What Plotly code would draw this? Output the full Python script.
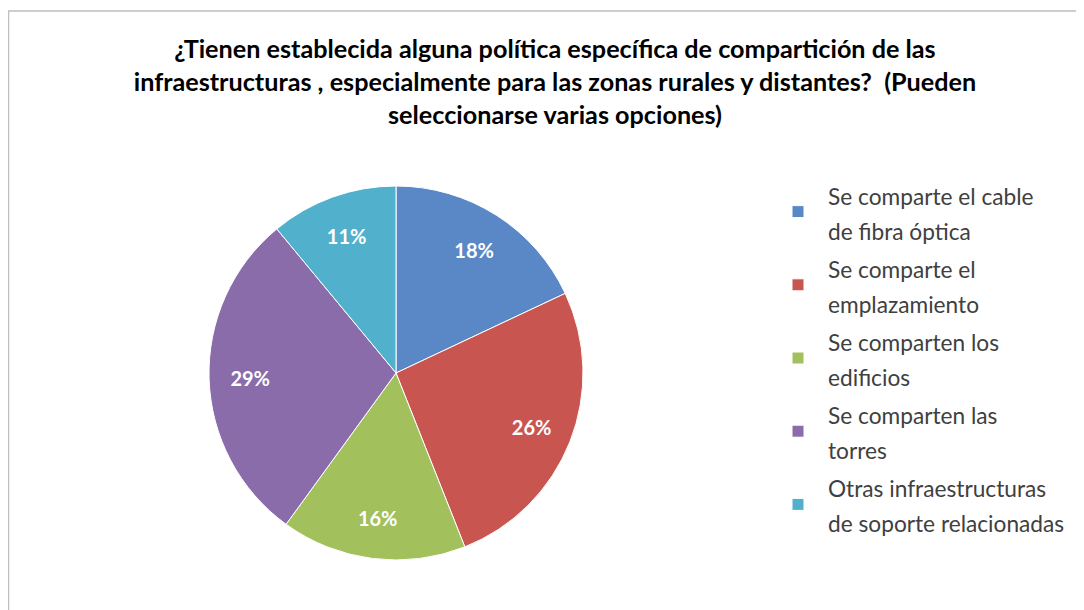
import plotly.graph_objects as go

categories = [
    "Se comparte el cable<br>de fibra óptica",
    "Se comparte el<br>emplazamiento",
    "Se comparten los<br>edificios",
    "Se comparten las<br>torres",
    "Otras infraestructuras<br>de soporte relacionadas",
]
shares = [18, 26, 16, 29, 11]
slice_colors = ["#5A88C6", "#C85550", "#A2C05C", "#8A6CAA", "#51B1CC"]

title_text = (
    "¿Tienen establecida alguna política específica de compartición de las<br>"
    "infraestructuras , especialmente para las zonas rurales y distantes?&nbsp; (Pueden<br>"
    "seleccionarse varias opciones)"
)

W, H = 1084, 610
OFF = 8  # browser body margin shifts the figure by 8px
cx, cy, r = 396 - OFF, 373 - OFF, 187
pie_domain = dict(x=[(cx - r) / W, (cx + r) / W], y=[(H - cy - r) / H, (H - cy + r) / H])

fig = go.Figure()

# coloured slices + legend
fig.add_trace(go.Pie(
    labels=[f"<span style='font-size:22.7px'>{c}</span>" for c in categories],
    values=shares,
    sort=False,
    direction="clockwise",
    rotation=0,
    marker=dict(colors=slice_colors, line=dict(color="white", width=1)),
    textinfo="none",
    domain=pie_domain,
    hoverinfo="percent",
))

# transparent ring on top, only to push the % labels outwards like Excel does
fig.add_trace(go.Pie(
    labels=categories,
    values=shares,
    sort=False,
    direction="clockwise",
    rotation=0,
    hole=0.56,
    marker=dict(colors=["rgba(0,0,0,0)"] * len(shares), line=dict(width=0)),
    textinfo="percent",
    textposition="inside",
    insidetextorientation="horizontal",
    textfont=dict(family="Lato", size=20, color="white", weight="bold"),
    domain=pie_domain,
    showlegend=False,
    hoverinfo="skip",
))

# chart frame
fig.add_shape(type="rect", xref="paper", yref="paper",
              x0=0.5 / W, x1=1.01, y0=-0.01, y1=1 - 3 / H,
              line=dict(color="#BFBFBF", width=1.5))

fig.update_layout(
    width=W, height=H,
    margin=dict(l=0, r=0, t=0, b=0),
    paper_bgcolor="white",
    plot_bgcolor="white",
    font=dict(family="Lato", color="#404040"),
    title=dict(
        text=title_text,
        x=(555 - OFF) / W, xref="container", xanchor="center",
        y=1 - 50 / H, yref="container", yanchor="top",
        font=dict(family="Lato", size=25.2, color="#000000", weight="bold"),
    ),
    legend=dict(
        x=(768 - OFF) / W, y=1 - (170 - OFF) / H, xanchor="left", yanchor="top",
        font=dict(family="Lato", size=27, color="#404040"),
        itemwidth=50,
    ),
    showlegend=True,
)

fig.write_html("out.html")
